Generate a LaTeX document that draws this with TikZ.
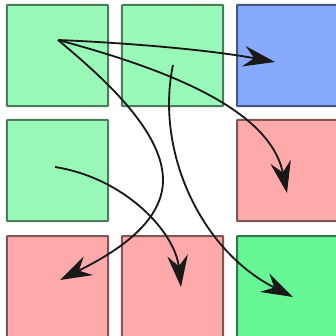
\documentclass[tikz,border=0pt]{standalone}
\usetikzlibrary{arrows.meta}
\definecolor{lgreen}{RGB}{152,248,184}
\definecolor{bgreen}{RGB}{102,246,150}
\definecolor{lblue}{RGB}{136,170,252}
\definecolor{lpink}{RGB}{255,170,170}
\begin{document}
\begin{tikzpicture}[x=0.03cm,y=-0.03cm,
  sq/.style={draw=#1!50!black, fill=#1, line width=0.06cm, minimum size=3.03cm, inner sep=0pt, rounded corners=0.5pt},
  arr/.style={line width=0.055cm, black!90, -{Stealth[length=0.95cm,width=0.62cm,inset=0.32cm]}}]
\clip (0,0) rectangle (336,336);
\fill[white] (0,0) rectangle (336,336);
\node[sq=lgreen] (s11) at (57.5,55.5) {};
\node[sq=lgreen] (s12) at (172.5,55.5) {};
\node[sq=lblue] (s13) at (287.5,55.5) {};
\node[sq=lgreen] (s21) at (57.5,170.5) {};
\node[sq=lpink] (s23) at (287.5,170.5) {};
\node[sq=lpink] (s31) at (57.5,286.5) {};
\node[sq=lpink] (s32) at (172.5,286.5) {};
\node[sq=bgreen] (s33) at (287.5,286.5) {};
\coordinate (a) at (58,40);
\coordinate (b) at (173,65);
\coordinate (c) at (55,167);
\coordinate (t1) at (275,62);
\coordinate (t2) at (287,193);
\coordinate (t3) at (60,280);
\coordinate (t4) at (181,287);
\coordinate (t5) at (293,297);
\coordinate (m3) at (163,180);
\draw[arr] (a) .. controls (130,43) and (210,50) .. (t1);
\draw[arr] (a) .. controls (170,70) and (270,110) .. (t2);
\draw[arr] (a) .. controls (100,75) and (163,130) .. (m3) .. controls (163,225) and (110,255) .. (t3);
\draw[arr] (c) .. controls (125,178) and (175,232) .. (t4);
\draw[arr] (b) .. controls (155,150) and (200,250) .. (t5);
\end{tikzpicture}
\end{document}
